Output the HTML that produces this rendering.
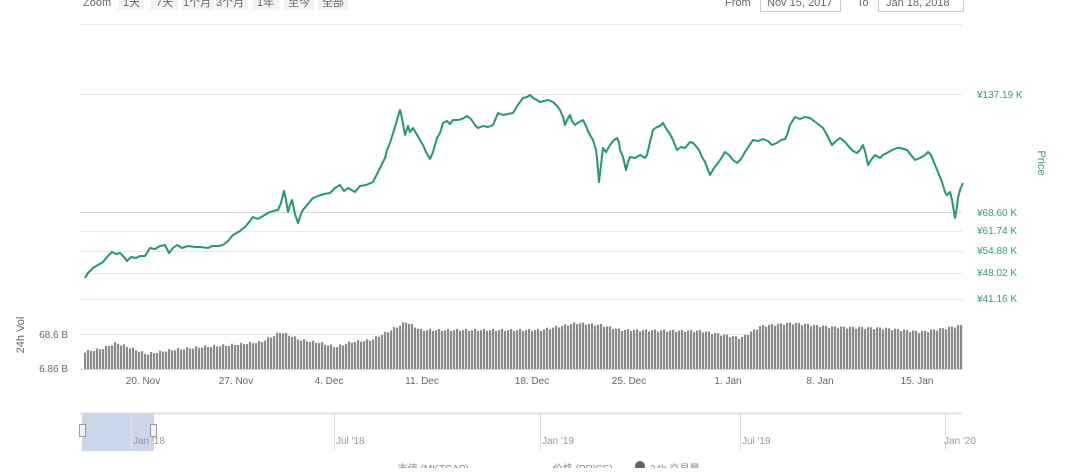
<!DOCTYPE html>
<html><head><meta charset="utf-8"><style>
body{margin:0;background:#fff;width:1080px;height:468px;overflow:hidden;font-family:"Liberation Sans","Noto Sans CJK SC",sans-serif;}
</style></head><body>
<svg id="s" width="1080" height="468" xmlns="http://www.w3.org/2000/svg" font-family="Liberation Sans, Noto Sans CJK SC, sans-serif">
<g font-size="11" fill="#666">
<text x="83" y="6">Zoom</text>
<rect x="118" y="-8" width="26" height="18" fill="#f3f3f3"/><text x="123" y="6">1天</text>
<rect x="150" y="-8" width="28" height="18" fill="#f3f3f3"/><text x="156" y="6">7天</text>
<rect x="182" y="-8" width="32" height="18" fill="#f3f3f3"/><text x="183" y="6">1个月</text>
<rect x="216" y="-8" width="32" height="18" fill="#f3f3f3"/><text x="216" y="6">3个月</text>
<rect x="253" y="-8" width="26" height="18" fill="#f3f3f3"/><text x="257" y="6">1年</text>
<rect x="284" y="-8" width="30" height="18" fill="#f3f3f3"/><text x="288" y="6">至今</text>
<rect x="318" y="-8" width="30" height="18" fill="#f3f3f3"/><text x="322" y="6">全部</text>
<text x="725" y="6">From</text>
<rect x="760.5" y="-8.5" width="80" height="20" fill="#fff" stroke="#ccc"/><text x="767" y="6">Nov 15, 2017</text>
<text x="857" y="6">To</text>
<rect x="878.5" y="-8.5" width="85" height="20" fill="#fff" stroke="#ccc"/><text x="886" y="6">Jan 18, 2018</text>
</g>
<g stroke="#e6e6e6" stroke-width="1">
<line x1="80" y1="24.5" x2="962" y2="24.5"/>
<line x1="80" y1="94.5" x2="962" y2="94.5"/>
<line x1="80" y1="212.5" x2="962" y2="212.5" stroke="#d8d8d8"/>
<line x1="80" y1="231.5" x2="962" y2="231.5"/>
<line x1="80" y1="251.5" x2="962" y2="251.5"/>
<line x1="80" y1="273.5" x2="962" y2="273.5"/>
<line x1="80" y1="299.5" x2="962" y2="299.5"/>
<line x1="80" y1="334.5" x2="962" y2="334.5"/>
<line x1="80" y1="369.5" x2="962" y2="369.5" stroke="#ccd6eb"/>
<line x1="80" y1="413.5" x2="962" y2="413.5" stroke="#e0e0e0" stroke-width="2"/>
</g>
<g font-size="10" fill="#3a9a7a">
<text x="977" y="98">¥137.19 K</text>
<text x="977" y="216">¥68.60 K</text>
<text x="977" y="234">¥61.74 K</text>
<text x="977" y="254">¥54.88 K</text>
<text x="977" y="276">¥48.02 K</text>
<text x="977" y="302">¥41.16 K</text>
</g>
<text transform="translate(1038,163) rotate(90)" font-size="11" fill="#3a9a7a" text-anchor="middle">Price</text>
<text transform="translate(24,335) rotate(-90)" font-size="11" fill="#666" text-anchor="middle">24h Vol</text>
<g font-size="10" fill="#666" text-anchor="end"><text x="68" y="338">68.6 B</text><text x="68" y="372">6.86 B</text></g>
<g id="vol" fill="#8a8a8a"></g>
<polyline fill="none" stroke="#1f9a72" stroke-width="2" stroke-linejoin="round" points="85,278 88,273 93,268 98,265 103,262 108,256 112,252 116,254 120,253 124,257 127,261 131,257 136,258 140,256 145,256 150,248 155,249 160,246 165,245 169,253 173,248 177,245 182,248 188,246 195,247 200,247 208,248 212,246 218,246 223,245 228,241 233,235 240,231 246,226 253,217 258,219 263,216 268,213 273,211 278,210 281,203 284,191 286,200 288,212 290,205 292,200 295,214 298,223 301,214 303,210 307,205 313,198 318,196 324,194 330,193 335,188 340,185 344,191 348,188 355,192 360,186 366,185 373,182 377,174 381,166 385,158 387,150 390,143 394,130 397,120 400,110 402,118 405,135 408,126 410,132 413,128 416,133 420,140 423,145 426,152 430,159 433,152 437,138 440,133 443,123 447,121 450,124 453,120 458,120 462,119 467,116 471,119 475,125 478,128 483,126 488,127 493,125 496,118 498,113 503,115 508,114 513,113 516,108 520,102 523,98 527,97 530,95 533,98 537,100 540,102 544,101 548,100 553,102 557,106 560,110 563,117 565,125 567,120 570,115 572,121 575,125 579,122 583,120 586,126 588,131 590,135 593,140 596,150 597,158 599,182 601,165 603,148 606,152 610,145 614,140 617,138 619,142 620,150 623,157 626,170 628,162 630,157 635,158 640,155 645,158 647,155 650,142 653,130 657,127 660,126 663,123 667,130 670,134 673,140 677,150 681,147 685,148 690,142 693,143 695,145 699,150 702,157 705,162 708,170 710,175 714,168 718,163 722,157 725,152 729,155 733,160 737,163 741,159 745,152 749,146 753,140 758,141 763,139 768,141 772,145 777,143 781,140 785,139 787,135 790,125 795,117 800,119 805,117 810,118 814,121 818,124 823,128 827,135 830,141 832,145 836,141 840,138 845,142 850,148 853,151 857,153 860,150 863,145 866,155 868,165 871,160 875,155 880,158 883,155 887,153 892,150 897,148 900,148 904,149 907,150 911,155 915,160 920,158 925,155 928,152 931,155 935,165 938,172 942,182 945,192 947,195 950,192 952,200 955,218 957,207 958,198 960,190 963,183"/>
<g font-size="10" fill="#666" text-anchor="middle">
<text x="143" y="384">20. Nov</text><text x="236" y="384">27. Nov</text><text x="329" y="384">4. Dec</text><text x="422" y="384">11. Dec</text><text x="532" y="384">18. Dec</text><text x="629" y="384">25. Dec</text><text x="728" y="384">1. Jan</text><text x="820" y="384">8. Jan</text><text x="917" y="384">15. Jan</text>
</g>
<rect x="82" y="413" width="72" height="38" fill="#ccd6eb"/>
<g stroke="#e0e0e0"><line x1="131.5" y1="413" x2="131.5" y2="450"/><line x1="334.5" y1="413" x2="334.5" y2="450"/><line x1="540.5" y1="413" x2="540.5" y2="450"/><line x1="740.5" y1="413" x2="740.5" y2="450"/><line x1="945.5" y1="413" x2="945.5" y2="450"/></g>
<rect x="79.5" y="424.5" width="6" height="12" fill="#f2f2f2" stroke="#999"/>
<rect x="150.5" y="424.5" width="6" height="12" fill="#f2f2f2" stroke="#999"/>
<g font-size="10" fill="#999"><text x="133" y="444">Jan '18</text><text x="336" y="444">Jul '18</text><text x="542" y="444">Jan '19</text><text x="742" y="444">Jul '19</text><text x="944" y="444">Jan '20</text></g>
<g font-size="10" fill="#888"><text x="385" y="472">— 市值 (MKTCAP)</text><text x="540" y="472">— 价格 (PRICE)</text><circle cx="640" cy="466" r="5" fill="#666"/><text x="650" y="472">24h 交易量</text></g>
</svg>
<script>
var pts=[[82,352],[100,349],[115,343],[130,348],[145,354],[170,350],[200,347],[230,345],[260,342],[280,332],[300,340],[320,343],[335,347],[350,342],[370,340],[390,330],[405,322],[420,330],[450,330],[500,330],[540,330],[575,323],[600,325],[620,330],[700,331],[740,338],[760,326],[790,323],[830,327],[880,328],[920,332],[945,328],[962,325]];
function f(x){for(var i=1;i<pts.length;i++){if(x<=pts[i][0]){var a=pts[i-1],b=pts[i];return a[1]+(b[1]-a[1])*(x-a[0])/(b[0]-a[0]);}}return 325;}
var g=document.getElementById('vol'),h='';
for(var x=84;x<962;x+=3){var y=f(x)+Math.sin(x*0.7)*1.2;h+='<rect x="'+x+'" y="'+y.toFixed(1)+'" width="2.2" height="'+(369-y).toFixed(1)+'"/>';}
g.innerHTML=h;
</script>
</body></html>
